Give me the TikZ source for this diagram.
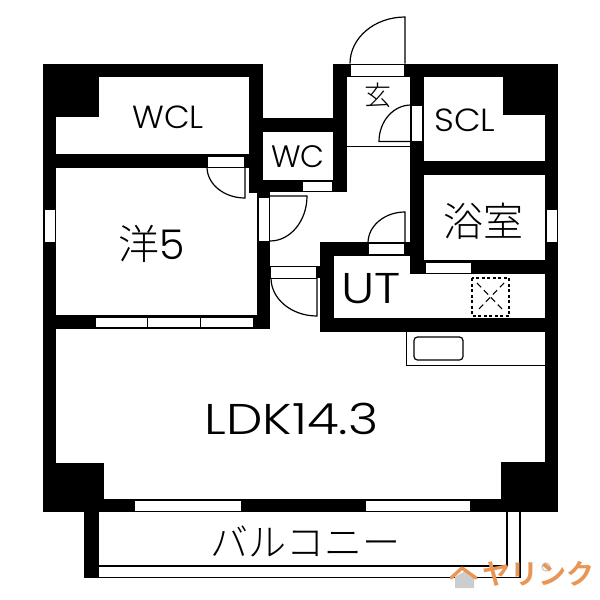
\documentclass[tikz,border=0pt]{standalone}
\usepackage{fontspec}
\setmainfont{Poppins}[UprightFont=* Light,BoldFont=* Medium]
\newfontfamily\cjk{Noto Sans CJK JP Light}[BoldFont=Noto Sans CJK JP Bold]
\definecolor{wm}{RGB}{232,150,85}
\definecolor{wmg}{RGB}{205,205,205}
\tikzset{
  wall/.style={fill=black,draw=none},
  opening/.style={fill=white,draw=black,line width=0.9pt},
  thin line/.style={draw=black,line width=1pt},
  swing/.style={draw=black,line width=1.2pt},
  lbl/.style={inner sep=0pt,text=black},
}
\begin{document}
\begin{tikzpicture}[x=1pt,y=-1pt]
\useasboundingbox (0,0) rectangle (600,600);
\fill[white] (0,0) rectangle (600,600);
% outer and inner walls
\path[wall] (42.5,63.5) rectangle (56,512);
\path[wall] (42.5,63.5) rectangle (262.5,77);
\path[wall] (42.5,63.5) rectangle (99,117);
\path[wall] (249,63.5) rectangle (262.5,193);
\path[wall] (56,154) rectangle (249,168);
\path[wall] (249,118) rectangle (347,132);
\path[wall] (249,180) rectangle (347,192);
\path[wall] (333,63.5) rectangle (347,192);
\path[wall] (333,63.5) rectangle (352,77);
\path[wall] (404,63.5) rectangle (558,77);
\path[wall] (503,63.5) rectangle (558,115);
\path[wall] (545,63.5) rectangle (558,512);
\path[wall] (410,63.5) rectangle (423.5,274);
\path[wall] (410,161) rectangle (558,175);
\path[wall] (410,260) rectangle (558,274);
\path[wall] (257,192) rectangle (270,329);
\path[wall] (56,315) rectangle (270,329);
\path[wall] (320,242) rectangle (334,332);
\path[wall] (320,242) rectangle (410,256);
\path[wall] (320,318) rectangle (558,332);
\path[wall] (316,266) rectangle (320,278);
\path[wall] (42.5,463) rectangle (103.5,512);
\path[wall] (500.5,462) rectangle (558,512);
\path[wall] (42.5,498.5) rectangle (558,512);
\path[wall] (84,512) rectangle (99,578);
% windows and door openings
\draw[opening] (44,209) rectangle (55,242);
\draw[opening] (546,209) rectangle (557,242);
\draw[opening] (95,317) rectangle (147.5,327);
\draw[opening] (147.5,317) rectangle (200.5,327);
\draw[opening] (200.5,317) rectangle (253,327);
\draw[opening] (134,500) rectangle (241,511);
\draw[opening] (365,500) rectangle (470,511);
\draw[opening] (425,262) rectangle (471,273);
\draw[opening] (302,181) rectangle (332,191);
\draw[opening] (207,156) rectangle (244,167);
\draw[opening] (258,197) rectangle (269,241);
\draw[opening] (270,266) rectangle (316,278);
\draw[opening] (368,243) rectangle (404,254);
\draw[opening] (411,105) rectangle (422,141.5);
\draw[opening] (350,64.5) rectangle (404,76);
% door swings
\draw[swing] (405,63.5) -- (405,17) arc[start angle=-90,end angle=-180,x radius=55,y radius=46.5];
\draw[swing] (411,141.5) -- (379,141.5) arc[start angle=180,end angle=270,x radius=32,y radius=36.5];
\draw[swing] (245,167) -- (245,198) arc[start angle=90,end angle=180,x radius=38,y radius=31];
\draw[swing] (269,196) -- (307,196) arc[start angle=0,end angle=90,x radius=37,y radius=45];
\draw[swing] (317,278) -- (317,316) arc[start angle=90,end angle=180,x radius=46,y radius=38];
\draw[swing] (405,243) -- (405,212) arc[start angle=-90,end angle=-180,x radius=37,y radius=31];
% hall and kitchen lines
\draw[thin line] (347,146) -- (410,146);
\draw[thin line] (406,332) -- (406,365.5) -- (545,365.5);
\draw[draw=black,line width=1.2pt,rounded corners=3.5pt] (414,337) rectangle (463,360);
% utility square
\draw[black,line width=1.3pt,dash pattern=on 3pt off 2.5pt] (472,278) rectangle (509,316);
\draw[black,line width=1.1pt,dash pattern=on 6pt off 4pt] (477,283) -- (504,311);
\draw[black,line width=1.1pt,dash pattern=on 6pt off 4pt] (504,283) -- (477,311);
% balcony rails
\draw[black,line width=1.8pt] (99,566) -- (507,566) -- (507,512);
\draw[black,line width=1.8pt] (99,577.5) -- (520,577.5) -- (520,512);
% labels
\node[lbl,font=\fontsize{32}{32}\selectfont] (wcl) at (168,117) {\scalebox{1.04}[1]{WCL}};
\node[lbl,font=\fontsize{31}{31}\selectfont] (wc) at (298,157) {WC};
\node[lbl,font=\fontsize{32}{32}\selectfont] (scl) at (465,120) {\scalebox{1.08}[1]{SCL}};
\node[lbl,font=\fontsize{27}{27}\selectfont\cjk] (gen) at (378,95) {玄};
\node[lbl,font=\fontsize{41}{41}\selectfont] (yo) at (152,244) {{\cjk 洋}5};
\node[lbl,font=\fontsize{40}{40}\selectfont\cjk] (yoku) at (483,221) {浴室};
\node[lbl,font=\fontsize{43}{43}\selectfont] (ut) at (371,289) {\scalebox{1.17}[1]{UT}};
\node[lbl,font=\fontsize{43}{43}\selectfont] (ldk) at (291.5,419) {\scalebox{1.2}[1]{LDK14.3}};
\node[lbl,font=\fontsize{38}{38}\selectfont\cjk] (balc) at (305.5,541) {バルコニー};
% watermark
\fill[wmg] (455,577) -- (465,571) -- (474,577) -- (474,588) -- (455,588) -- cycle;
\draw[wm,line width=3.4pt,line cap=round,line join=round] (451,578) -- (462,568) -- (476,578);
\draw[wmg,line width=1.3pt] (546,567) circle[radius=4];
\node[lbl,text=wm,font=\fontsize{28}{28}\selectfont\cjk\bfseries] (mark) at (538,573.5) {ヤリンク};
\end{tikzpicture}
\end{document}
